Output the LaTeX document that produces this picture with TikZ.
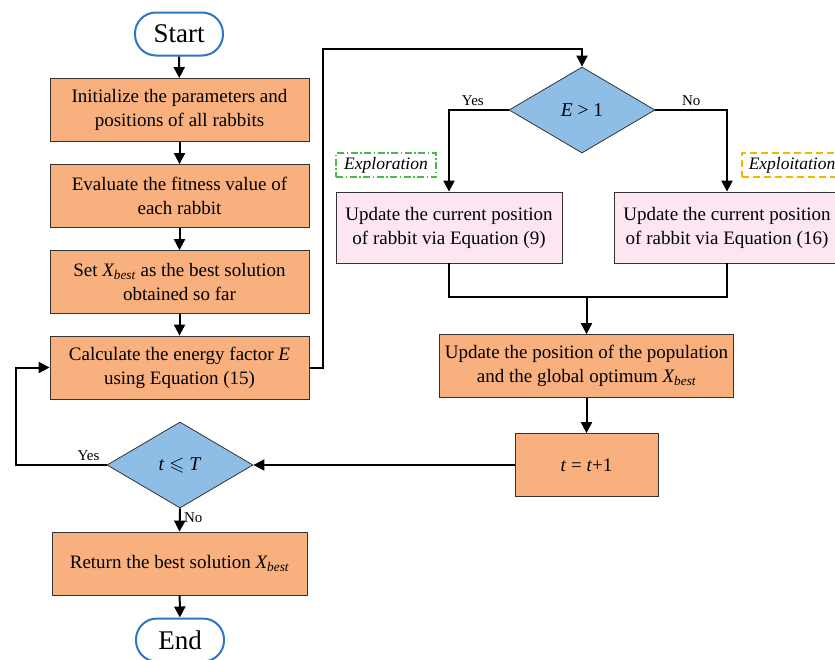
\documentclass[tikz,border=0pt]{standalone}
\usepackage{fontspec}
\setmainfont{Liberation Serif}
\usepackage{amssymb}
\usetikzlibrary{arrows.meta,shapes.geometric,calc}
\usepackage{xcolor}
\definecolor{boxorange}{HTML}{F9B07F}
\definecolor{boxpink}{HTML}{FDE6F1}
\definecolor{decblue}{HTML}{8EBEE6}
\definecolor{termblue}{HTML}{2E75C6}
\definecolor{explgreen}{HTML}{4CB84C}
\definecolor{expltyellow}{HTML}{F5B800}
\newcommand{\xbest}{\textit{X\textsubscript{best}}}

\begin{document}
\begin{tikzpicture}[x=1pt,y=-1pt,
			terminal/.style={rectangle, draw=termblue, line width=2pt, fill=white,
				minimum width=88pt, minimum height=43pt, rounded corners=21pt,
				font=\fontsize{27}{30}\selectfont},
			process/.style={rectangle, draw=black!80, fill=boxorange, line width=0.8pt,
				minimum width=259pt, minimum height=63pt, align=center,
				font=\fontsize{19}{24}\selectfont},
			update/.style={rectangle, draw=black!80, fill=boxpink, line width=0.8pt,
				minimum width=226pt, minimum height=71pt, align=center,
				font=\fontsize{19}{24}\selectfont},
			decision/.style={diamond, draw=black!80, fill=decblue, line width=0.8pt,
				minimum width=146pt, minimum height=86pt, inner sep=0pt,
				font=\fontsize{19.5}{24}\selectfont},
			tag/.style={rectangle, line width=1.5pt, minimum width=100pt, minimum height=24pt,
				inner sep=1pt, font=\fontsize{17.5}{20}\selectfont\itshape},
			yesno/.style={font=\fontsize{15}{18}\selectfont},
			arr/.style={-{Triangle[length=11pt,width=11pt]}, line width=2pt},
			line/.style={line width=2pt}
			]
			\useasboundingbox (0,0) rectangle (835,659);
			
			% left column
			\node[terminal] (start) at (179,34) {Start};
			\node[process] (init) at (179.5,110) {Initialize the parameters and\\positions of all rabbits};
			\node[process] (eval) at (179.5,196) {Evaluate the fitness value of\\each rabbit};
			\node[process] (setx) at (179.5,282) {Set \xbest{} as the best solution\\obtained so far};
			\node[process] (calc) at (179.5,367.5) {Calculate the energy factor \textit{E}\\using Equation (15)};
			\node[decision] (iter) at (180,465) {\textit{t} $\leqslant$ \textit{T}};
			\node[process, minimum width=255pt] (ret) at (179.5,563.5) {Return the best solution \xbest};
			\node[terminal] (stop) at (180,640) {End};
			
			% right column
			\node[decision] (edec) at (582,110) {\textit{E} > 1};
			\node[update] (upd1) at (449,227.5) {Update the current position\\of rabbit via Equation (9)};
			\node[update] (upd2) at (727,227.5) {Update the current position\\of rabbit via Equation (16)};
			\node[tag, draw=explgreen, dash pattern=on 7pt off 2.5pt on 1.5pt off 2.5pt] (explor) at (386,165) {Exploration};
			\node[tag, draw=expltyellow, dash pattern=on 7pt off 4pt] (exploi) at (792,165) {Exploitation};
			\node[process, minimum width=294pt] (pop) at (586.5,366) {Update the position of the population\\and the global optimum \xbest};
			\node[process, minimum width=143pt] (tinc) at (586.5,465) {\textit{t} = \textit{t}+1};
			
			\coordinate (loopL) at (16,465);
			\coordinate (upR) at (323,49);
			\coordinate (merge) at (586.5,297);
			
			\draw[arr] (start) -- (init);
			\draw[arr] (init) -- (eval);
			\draw[arr] (eval) -- (setx);
			\draw[arr] (setx) -- (calc);
			\draw[arr] (calc.east) -| (upR) -| (edec.north);
			\draw[arr] (edec.west) -| node[yesno, above, pos=0.3]{Yes} (upd1.north);
			\draw[arr] (edec.east) -| node[yesno, above, pos=0.25]{No} (upd2.north);
			\draw[line] (upd1.south) |- (merge) -| (upd2.south);
			\draw[arr] (merge) -- (pop.north);
			\draw[arr] (pop) -- (tinc);
			\draw[arr] (tinc.west) -- (iter.east);
			\draw[arr] (iter.west) -- node[yesno, above, pos=0.2]{Yes} (loopL) |- (calc.west);
			\draw[arr] (iter.south) -- node[yesno, right, pos=0.4]{No} (ret.north);
			\draw[arr] (ret) -- (stop);
		\end{tikzpicture}
\end{document}
